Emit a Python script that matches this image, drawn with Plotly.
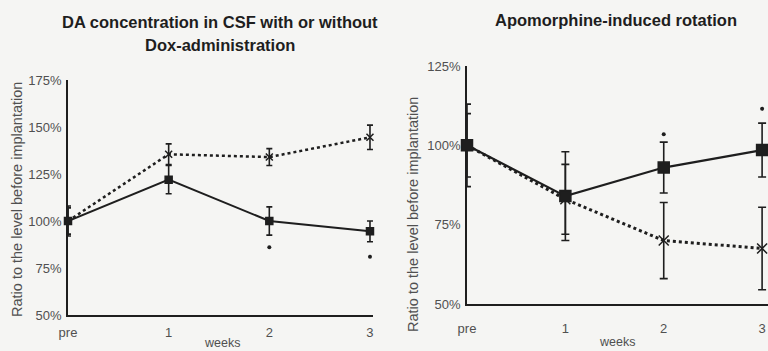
import plotly.graph_objects as go

# ---- data ----
weeks = ["pre", "1", "2", "3"]
wk_pos = [0, 1, 2, 3]

# Left panel: DA concentration in CSF (%)
da_solid = [100, 122, 100, 94.5]
da_solid_err = [8, 7.5, 7.5, 5.5]
da_dotted = [100, 135.5, 134, 144.5]
da_dotted_err = [7, 5.5, 4.5, 6.5]
da_sig_wk = [2, 3]
da_sig_val = [86, 81]

# Right panel: Apomorphine-induced rotation (%)
apo_solid = [100, 84, 93, 98.5]
apo_solid_err = [13, 14, 8, 8.5]
apo_dotted = [100, 83, 70, 67.5]
apo_dotted_err = [10, 11, 12, 13]
apo_sig_wk = [2, 3]
apo_sig_val = [103.5, 111.5]

left_yticks = [50, 75, 100, 125, 150, 175]
right_yticks = [50, 75, 100, 125]

INK = "#1e1e1e"
GREY = "#505050"
FONT = "Liberation Sans, Arial, sans-serif"

fig = go.Figure()

def add_series(x, y, err, xa, ya, dash, symbol, msize, lw, cap):
    fig.add_trace(go.Scatter(
        x=x, y=y, xaxis=xa, yaxis=ya, mode="lines+markers", cliponaxis=False,
        line=dict(color=INK, width=lw, dash=dash),
        marker=dict(symbol=symbol, size=msize, color=INK,
                    line=dict(color=INK, width=1.5)),
        error_y=dict(type="data", array=err, color=INK, thickness=1.6, width=cap),
        showlegend=False, hoverinfo="skip"))

add_series(wk_pos, da_dotted, da_dotted_err, "x", "y", "dot", "x-thin", 7, 2.5, 3)
add_series(wk_pos, da_solid, da_solid_err, "x", "y", "solid", "square", 7, 2, 3)
add_series(wk_pos, apo_dotted, apo_dotted_err, "x2", "y2", "dot", "x-thin", 10, 3, 4)
add_series(wk_pos, apo_solid, apo_solid_err, "x2", "y2", "solid", "square", 11, 2.2, 4)

for xs, ys, xa, ya in [(da_sig_wk, da_sig_val, "x", "y"), (apo_sig_wk, apo_sig_val, "x2", "y2")]:
    fig.add_trace(go.Scatter(x=xs, y=ys, xaxis=xa, yaxis=ya, mode="markers",
                             marker=dict(symbol="circle", size=4, color=INK),
                             showlegend=False, hoverinfo="skip"))

W, H = 768, 351
axis_common = dict(showgrid=False, zeroline=False, showline=True, linecolor=INK,
                   linewidth=1.8, ticks="", automargin=False,
                   tickfont=dict(family=FONT, size=13, color=GREY))

fig.update_layout(
    width=W, height=H, margin=dict(l=0, r=0, t=0, b=0),
    paper_bgcolor="#f5f5f3", plot_bgcolor="#f5f5f3",
    xaxis=dict(domain=[68 / W, 373 / W], range=[0, 3.03], tickvals=wk_pos, ticktext=weeks,
               anchor="y", ticklabelstandoff=4, **axis_common),
    yaxis=dict(domain=[1 - 315 / H, 1 - 80 / H], range=[50, 175], tickvals=left_yticks,
               ticktext=[f"{v}%" for v in left_yticks], anchor="x", ticklabelstandoff=2,
               **axis_common),
    xaxis2=dict(domain=[467 / W, 1.0], range=[0, 3.06], tickvals=wk_pos, ticktext=weeks,
                anchor="y2", ticklabelstandoff=11, **axis_common),
    yaxis2=dict(domain=[1 - 304 / H, 1 - 66 / H], range=[50, 125], tickvals=right_yticks,
                ticktext=[f"{v}%" for v in right_yticks], anchor="x2", ticklabelstandoff=2,
                **axis_common),
)

def ann(text, x, y, size, bold=False, angle=0, color=INK):
    fig.add_annotation(text=f"<b>{text}</b>" if bold else text, x=x / W, y=1 - y / H,
                       xref="paper", yref="paper", showarrow=False, textangle=angle,
                       font=dict(family=FONT, size=size, color=color),
                       xanchor="center", yanchor="middle")

ann("DA concentration in CSF with or without", 220, 22, 16.5, bold=True)
ann("Dox-administration", 220, 45, 16.5, bold=True)
ann("Apomorphine-induced rotation", 616, 20, 16.5, bold=True)
ann("Ratio to the level before implantation", 17, 200, 14.5, angle=-90, color=GREY)
ann("Ratio to the level before implantation", 413, 215, 14.5, angle=-90, color=GREY)
ann("weeks", 222, 343, 12.5, color=GREY)
ann("weeks", 617, 342, 12.5, color=GREY)

fig.write_html("out.html", config={"displayModeBar": False},
               post_script="document.body.style.margin='0';")
